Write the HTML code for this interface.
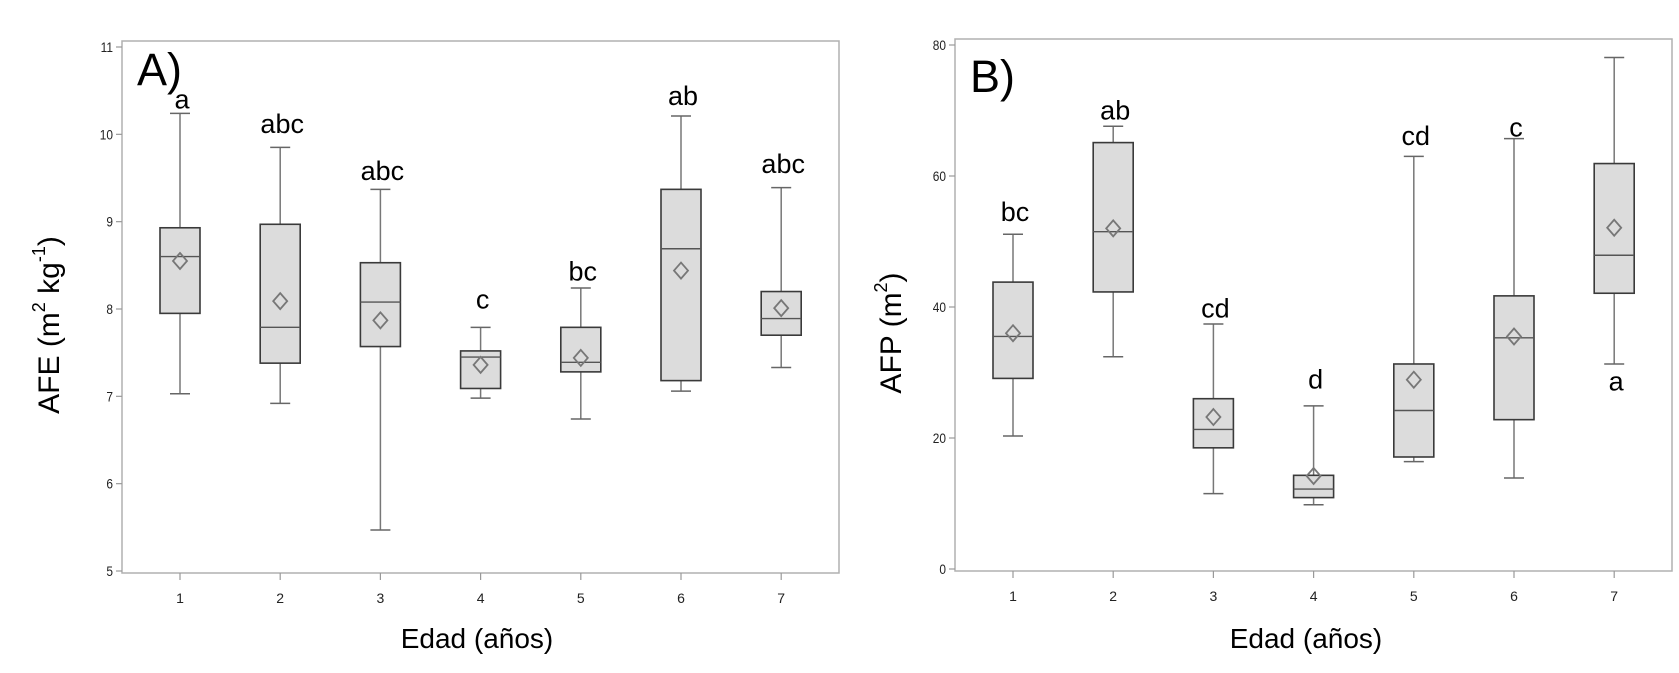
<!DOCTYPE html>
<html><head><meta charset="utf-8"><style>
html,body{margin:0;padding:0;background:#fff;}
svg{display:block;font-family:"Liberation Sans","DejaVu Sans",sans-serif;}
</style></head><body>
<svg id="chart" width="1679" height="673" viewBox="0 0 1679 673"></svg>
<script>
// ----- Panel A data (AFE) -----
const categoriesA = [1,2,3,4,5,6,7];
const minA    = [7.03,6.92,5.47,6.98,6.74,7.06,7.33];
const q1A     = [7.95,7.38,7.57,7.09,7.28,7.18,7.70];
const medianA = [8.60,7.79,8.08,7.45,7.39,8.69,7.89];
const q3A     = [8.93,8.97,8.53,7.52,7.79,9.37,8.20];
const maxA    = [10.24,9.85,9.37,7.79,8.24,10.21,9.39];
const meanA   = [8.55,8.09,7.87,7.36,7.44,8.44,8.01];
const lettersA = ["a","abc","abc","c","bc","ab","abc"];
const letterYA = [10.40,10.12,9.58,8.11,8.43,10.44,9.66];
const yTicksA = [5,6,7,8,9,10,11];
// ----- Panel B data (AFP) -----
const categoriesB = [1,2,3,4,5,6,7];
const minB    = [20.3,32.4,11.5,9.8,16.4,13.9,31.3];
const q1B     = [29.1,42.3,18.5,10.9,17.1,22.8,42.1];
const medianB = [35.5,51.5,21.3,12.2,24.2,35.3,47.9];
const q3B     = [43.8,65.1,26.0,14.3,31.3,41.7,61.9];
const maxB    = [51.1,67.6,37.4,24.9,63.0,65.7,78.1];
const meanB   = [36.0,52.0,23.2,14.2,28.9,35.5,52.1];
const lettersB = ["bc","ab","cd","d","cd","c","a"];
const letterYB = [54.5,70.0,39.8,28.9,66.1,67.4,28.6];
const yTicksB = [0,20,40,60,80];

const NS="http://www.w3.org/2000/svg";
const svg=document.getElementById('chart');
function el(tag,attrs,parent){const e=document.createElementNS(NS,tag);for(const k in attrs)e.setAttribute(k,attrs[k]);(parent||svg).appendChild(e);return e;}

function panel(cfg){
  const g=el('g',{});
  
  
  const xS=c=>cfg.x1+(c-1)*cfg.dx;
  const yS=v=>cfg.yBot+(v-cfg.vMin)/(cfg.vMax-cfg.vMin)*(cfg.yTop-cfg.yBot);
  const fr=el('rect',{x:cfg.L,y:cfg.T,width:cfg.R-cfg.L,height:cfg.B-cfg.T,fill:'none',stroke:'#b0b0b0','stroke-width':1.5},g);
  
  
  cfg.yTicks.forEach(t=>{
    const y=yS(t);
    el('line',{x1:cfg.L-6,x2:cfg.L,y1:y,y2:y,stroke:'#999','stroke-width':1.2},g);
    const tx=el('text',{x:cfg.L-9,y:y+5,'text-anchor':'end','font-size':14,fill:'#222',transform:`translate(${cfg.L-9},0) scale(0.85,1) translate(${-(cfg.L-9)},0)`},g);
    tx.textContent=t;
    
    
  });
  cfg.cats.forEach((c,i)=>{
    const x=xS(c);
    el('line',{x1:x,x2:x,y1:cfg.B,y2:cfg.B+7,stroke:'#999','stroke-width':1.2},g);
    const tx=el('text',{x:x,y:cfg.B+30,'text-anchor':'middle','font-size':14,fill:'#222'},g);
    tx.textContent=c;
    
    
    const bg=el('g',{},g);
    
    
    const w=20;
    el('line',{x1:x,x2:x,y1:yS(cfg.max[i]),y2:yS(cfg.q3[i]),stroke:'#777','stroke-width':1.5},bg);
    el('line',{x1:x,x2:x,y1:yS(cfg.q1[i]),y2:yS(cfg.min[i]),stroke:'#777','stroke-width':1.5},bg);
    el('line',{x1:x-10,x2:x+10,y1:yS(cfg.max[i]),y2:yS(cfg.max[i]),stroke:'#666','stroke-width':1.5},bg);
    el('line',{x1:x-10,x2:x+10,y1:yS(cfg.min[i]),y2:yS(cfg.min[i]),stroke:'#666','stroke-width':1.5},bg);
    el('rect',{x:x-w,y:yS(cfg.q3[i]),width:2*w,height:yS(cfg.q1[i])-yS(cfg.q3[i]),fill:'#dcdcdc',stroke:'#3a3a3a','stroke-width':1.6},bg);
    el('line',{x1:x-w,x2:x+w,y1:yS(cfg.med[i]),y2:yS(cfg.med[i]),stroke:'#555','stroke-width':1.4},bg);
    const my=yS(cfg.mean[i]);
    el('path',{d:`M${x} ${my-8}L${x+7} ${my}L${x} ${my+8}L${x-7} ${my}Z`,fill:'none',stroke:'#777','stroke-width':1.8},bg);
    const lt=el('text',{x:x+2,y:yS(cfg.letY[i])+9,'text-anchor':'middle','font-size':27,fill:'#000'},g);
    lt.textContent=cfg.letters[i];
    
    
  });
  const pl=el('text',{x:cfg.L+15,y:cfg.panelY,'font-size':45,fill:'#000'},g);
  pl.textContent=cfg.panelLabel;
  
  
  const xt=el('text',{x:cfg.xtX,y:648,'text-anchor':'middle','font-size':28,fill:'#000'},g);
  xt.textContent='Edad (años)';
  
  
  const yt=el('text',{x:0,y:0,'text-anchor':'middle','font-size':30,fill:'#000',transform:`translate(${cfg.ytX},${cfg.ytY}) rotate(-90)`},g);
  yt.innerHTML=cfg.ytHTML;
  
  
}

panel({name:'panel-a-afe',L:122,R:839,T:41,B:573,x1:180,dx:100.2,yBot:571,yTop:47,vMin:5,vMax:11,
  yTicks:yTicksA,cats:categoriesA,min:minA,q1:q1A,med:medianA,q3:q3A,max:maxA,mean:meanA,letters:lettersA,letY:letterYA,
  panelLabel:'A)',panelY:85,xtX:477,ytX:59,ytY:325,
  ytHTML:'AFE (m<tspan dy="-14" font-size="18">2</tspan><tspan dy="14"> kg</tspan><tspan dy="-14" font-size="18">-1</tspan><tspan dy="14">)</tspan>'});
panel({name:'panel-b-afp',L:955,R:1672,T:39,B:571,x1:1013,dx:100.2,yBot:569,yTop:45,vMin:0,vMax:80,
  yTicks:yTicksB,cats:categoriesB,min:minB,q1:q1B,med:medianB,q3:q3B,max:maxB,mean:meanB,letters:lettersB,letY:letterYB,
  panelLabel:'B)',panelY:92,xtX:1306,ytX:901,ytY:333,
  ytHTML:'AFP (m<tspan dy="-14" font-size="18">2</tspan><tspan dy="14">)</tspan>'});
</script>
</body></html>
